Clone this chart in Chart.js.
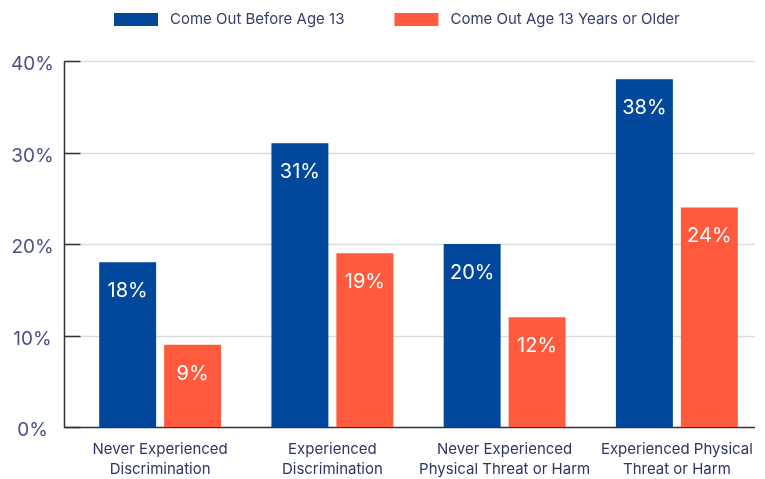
<!DOCTYPE html>
<html>
<head>
<meta charset="utf-8">
<script src="https://cdn.jsdelivr.net/npm/chart.js@4"></script>
<style>
  html, body { margin: 0; padding: 0; background: #fff; }
  #wrap { width: 765px; height: 479px; }
</style>
</head>
<body>
<div id="wrap"><canvas id="chart"></canvas></div>
<script>
// categories (two-line labels)
const categories = [
    ['Never Experienced', 'Discrimination'],
    ['Experienced', 'Discrimination'],
    ['Never Experienced', 'Physical Threat or Harm'],
    ['Experienced Physical', 'Threat or Harm']
];
const seriesNames = ['Come Out Before Age 13', 'Come Out Age 13 Years or Older'];
const beforeAge13 = [18, 31, 20, 38];
const age13OrOlder = [9, 19, 12, 24];
const yTicks = [0, 10, 20, 30, 40];

const BLUE = '#01479b';
const ORANGE = '#ff5a3d';
const FONT = 'Inter, "Noto Sans", sans-serif';

// grid lines, axis lines, small inner ticks and the % labels, all from the y scale
const axisPlugin = {
    id: 'axisLines',
    beforeDatasetsDraw(chart) {
        const ctx = chart.ctx;
        const y = chart.scales.y;
        const left = 64.5, right = 755;
        ctx.save();
        yTicks.forEach(v => {
            const py = Math.round(y.getPixelForValue(v)) + 0.5;
            if (v > 0) {
                ctx.strokeStyle = '#dcdcdc';
                ctx.lineWidth = 1.5;
                ctx.beginPath();
                ctx.moveTo(left, py);
                ctx.lineTo(right, py);
                ctx.stroke();
            }
            ctx.strokeStyle = '#333';
            ctx.lineWidth = 1.5;
            ctx.beginPath();
            ctx.moveTo(left, py);
            ctx.lineTo(left + 16, py);
            ctx.stroke();

            // tick label, centred in the gutter and sitting a bit below the line
            ctx.fillStyle = '#4b4f8e';
            ctx.font = '19px ' + FONT;
            ctx.textAlign = 'center';
            ctx.textBaseline = 'middle';
            ctx.fillText(v + '%', 32.5, py + 3);
        });
        const top = y.getPixelForValue(40);
        const bottom = Math.round(y.getPixelForValue(0)) + 0.5;
        ctx.strokeStyle = '#333';
        ctx.lineWidth = 1.5;
        ctx.beginPath();
        ctx.moveTo(left, top);
        ctx.lineTo(left, bottom);
        ctx.lineTo(right, bottom);
        ctx.stroke();
        ctx.restore();
    }
};

// value labels inside the top of each bar
const valueLabels = {
    id: 'valueLabels',
    afterDatasetsDraw(chart) {
        const ctx = chart.ctx;
        ctx.save();
        ctx.fillStyle = '#fff';
        ctx.font = '20px ' + FONT;
        ctx.textAlign = 'center';
        ctx.textBaseline = 'middle';
        chart.data.datasets.forEach((ds, i) => {
            chart.getDatasetMeta(i).data.forEach((bar, j) => {
                ctx.fillText(ds.data[j] + '%', bar.x, bar.y + 29);
            });
        });
        ctx.restore();
    }
};

// legend row at the top: box, gap, label, wider gap to next item
const topLegend = {
    id: 'topLegend',
    afterDraw(chart) {
        const ctx = chart.ctx;
        ctx.save();
        ctx.font = '15px ' + FONT;
        ctx.textBaseline = 'middle';
        ctx.textAlign = 'left';
        let x = 114;
        const cy = 19.5;
        chart.data.datasets.forEach(ds => {
            ctx.fillStyle = ds.backgroundColor;
            ctx.fillRect(x, 13, 44, 13);
            x += 44 + 12;
            ctx.fillStyle = '#363c6b';
            ctx.fillText(ds.label, x, cy);
            x += ctx.measureText(ds.label).width + 50;
        });
        ctx.restore();
    }
};

new Chart(document.getElementById('chart'), {
    type: 'bar',
    data: {
        labels: categories,
        datasets: [{
            label: seriesNames[0],
            data: beforeAge13,
            backgroundColor: BLUE,
            barPercentage: 0.877,
            categoryPercentage: 0.754
        }, {
            label: seriesNames[1],
            data: age13OrOlder,
            backgroundColor: ORANGE,
            barPercentage: 0.877,
            categoryPercentage: 0.754
        }]
    },
    options: {
        responsive: true,
        maintainAspectRatio: false,
        animation: false,
        layout: { padding: { top: 61, right: 2, left: 0, bottom: 0 } },
        plugins: {
            tooltip: { enabled: false },
            legend: { display: false }
        },
        scales: {
            x: {
                grid: { display: false },
                border: { display: false },
                ticks: {
                    color: '#2d3566',
                    padding: 5,
                    autoSkip: false,
                    maxRotation: 0,
                    font: { family: FONT, size: 15, lineHeight: 1.33 }
                },
                afterFit(scale) { scale.height = 52; }
            },
            y: {
                min: 0,
                max: 40,
                grid: { display: false },
                border: { display: false },
                afterBuildTicks(scale) {
                    scale.ticks = yTicks.map(v => ({ value: v }));
                },
                ticks: { display: false },
                afterFit(scale) { scale.width = 74; }
            }
        }
    },
    plugins: [axisPlugin, valueLabels, topLegend]
});
</script>
</body>
</html>
